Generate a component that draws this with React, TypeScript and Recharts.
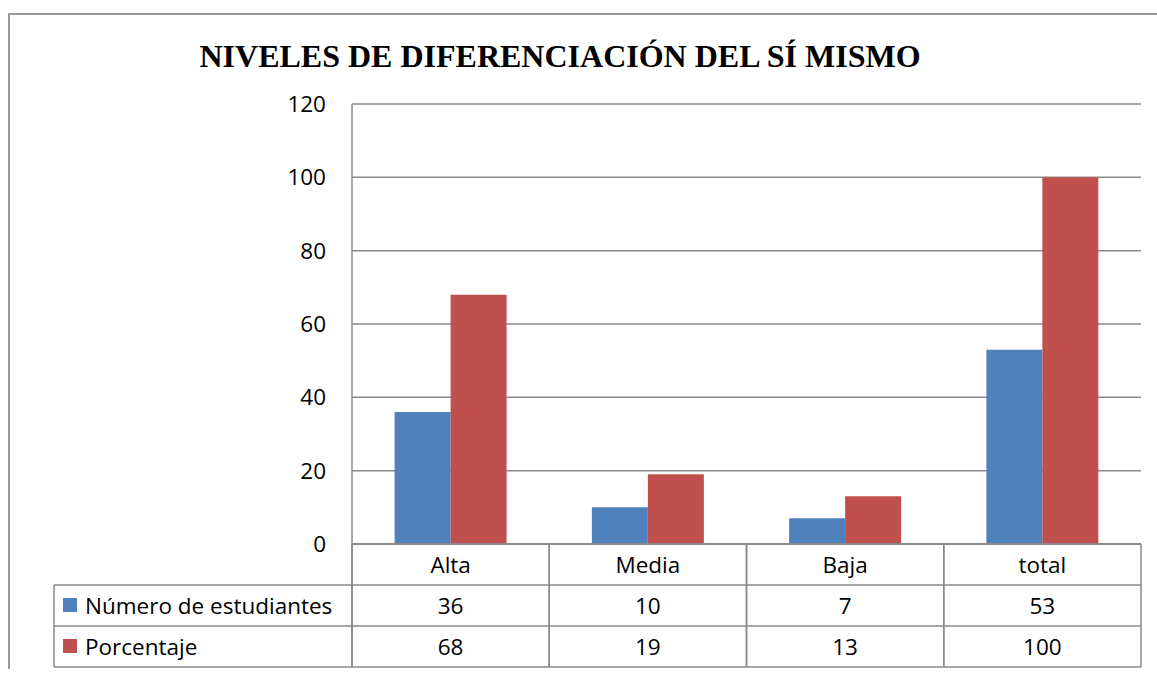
import React from "react";
import { BarChart, Bar, XAxis, YAxis, CartesianGrid, Customized } from "recharts";

const categories = ["Alta", "Media", "Baja", "total"];
const estudiantes = [36, 10, 7, 53];
const porcentaje = [68, 19, 13, 100];
const seriesNames = ["Número de estudiantes", "Porcentaje"];
const seriesColors = ["#4F81BD", "#C0504D"];
const yTicks = [0, 20, 40, 60, 80, 100, 120];
const title = "NIVELES DE DIFERENCIACIÓN DEL SÍ MISMO";

const data = categories.map((c, i) => ({
  name: c,
  estudiantes: estudiantes[i],
  porcentaje: porcentaje[i],
}));

const W = 1149;
const H = 661;
const MARGIN = { top: 96, right: 16, bottom: 2, left: 284 };
const YW = 60;
const XH = 123;
const PLOT_LEFT = MARGIN.left + YW;
const PLOT_RIGHT = W - MARGIN.right;
const PLOT_W = PLOT_RIGHT - PLOT_LEFT;
const PLOT_BOTTOM = H - MARGIN.bottom - XH;
const ROW = 41;
const LINE = "#888888";
const FONT = "'Open Sans', sans-serif";
const FS = 22.5;
const TABLE_LEFT = 46;

const TableTick = (props: any) => {
  const { x, y, payload } = props;
  const cw = PLOT_W / categories.length;
  const idx = categories.indexOf(payload.value);
  const x0 = x - cw / 2;
  const x1 = x + cw / 2;
  const vals = [estudiantes[idx], porcentaje[idx]];
  return (
    <g>
      <line x1={x0} x2={x0} y1={y} y2={y + 3 * ROW} stroke={LINE} strokeWidth={1.5} />
      <line x1={x1} x2={x1} y1={y} y2={y + 3 * ROW} stroke={LINE} strokeWidth={1.5} />
      {[0, 1, 2, 3].map((r) => (
        <line key={r} x1={x0} x2={x1} y1={y + r * ROW} y2={y + r * ROW} stroke={LINE} strokeWidth={1.5} />
      ))}
      <text x={x} y={y + ROW / 2 + 8} textAnchor="middle" fontFamily={FONT} fontSize={FS} fill="#000">
        {payload.value}
      </text>
      {vals.map((v, r) => (
        <text key={r} x={x} y={y + (r + 1) * ROW + ROW / 2 + 8} textAnchor="middle" fontFamily={FONT} fontSize={FS} fill="#000">
          {v}
        </text>
      ))}
    </g>
  );
};

const Extras = () => {
  const y0 = PLOT_BOTTOM;
  return (
    <g>
      <text x={552} y={59} textAnchor="middle" fontFamily="'Liberation Serif', serif" fontWeight="bold" fontSize={32} fill="#000">
        {title}
      </text>
      <line x1={PLOT_LEFT} x2={PLOT_LEFT} y1={y0} y2={y0 + 3 * ROW} stroke={LINE} strokeWidth={1.5} />
      <line x1={TABLE_LEFT} x2={TABLE_LEFT} y1={y0 + ROW} y2={y0 + 3 * ROW} stroke={LINE} strokeWidth={1.5} />
      {[1, 2, 3].map((r) => (
        <line key={r} x1={TABLE_LEFT} x2={PLOT_LEFT} y1={y0 + r * ROW} y2={y0 + r * ROW} stroke={LINE} strokeWidth={1.5} />
      ))}
      {seriesNames.map((n, i) => (
        <g key={n}>
          <rect x={TABLE_LEFT + 9} y={y0 + (i + 1) * ROW + 13} width={14} height={14} fill={seriesColors[i]} />
          <text x={TABLE_LEFT + 31} y={y0 + (i + 1) * ROW + ROW / 2 + 8} fontFamily={FONT} fontSize={FS} fill="#000">
            {n}
          </text>
        </g>
      ))}
    </g>
  );
};

export default function App() {
  return (
    <div style={{ position: "absolute", left: 8, top: 8, width: W, height: H, overflow: "hidden" }}>
      <div
        style={{
          position: "absolute",
          left: 0,
          top: 5,
          width: W + 20,
          height: H + 20,
          borderLeft: "2px solid #999",
          borderTop: "2px solid #999",
        }}
      />
      <div style={{ position: "absolute", left: 0, top: 0 }}>
        <BarChart width={W} height={H} data={data} margin={MARGIN} barCategoryGap="21.6%" barGap={0}>
          <CartesianGrid vertical={false} stroke={LINE} strokeWidth={1.5} />
          <YAxis
            width={YW}
            domain={[0, 120]}
            ticks={yTicks}
            tickLine={false}
            tickSize={0}
            tickMargin={26}
            axisLine={{ stroke: LINE, strokeWidth: 1.5 }}
            tick={{ fontFamily: FONT, fontSize: FS, fill: "#000" }}
          />
          <XAxis
            dataKey="name"
            height={XH}
            tickLine={false}
            tickSize={0}
            tickMargin={0}
            axisLine={{ stroke: LINE, strokeWidth: 1.5 }}
            tick={<TableTick />}
            interval={0}
          />
          <Bar dataKey="estudiantes" name={seriesNames[0]} fill={seriesColors[0]} isAnimationActive={false} />
          <Bar dataKey="porcentaje" name={seriesNames[1]} fill={seriesColors[1]} isAnimationActive={false} />
          <Customized component={<Extras />} />
        </BarChart>
      </div>
    </div>
  );
}
